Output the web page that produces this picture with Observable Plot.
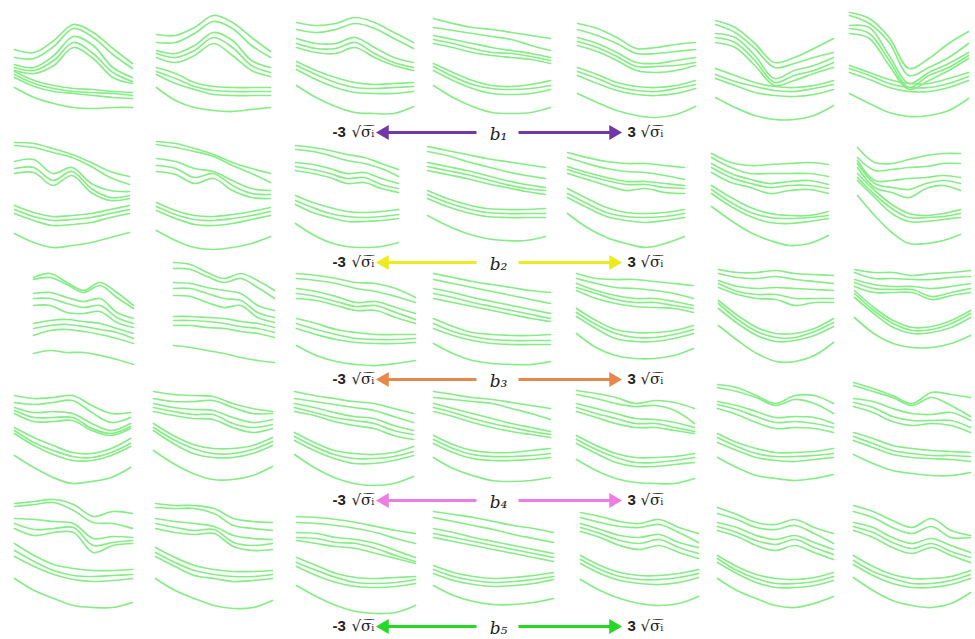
<!DOCTYPE html>
<html>
<head>
<meta charset="utf-8">
<script src="https://cdn.jsdelivr.net/npm/d3@7"></script>
<script src="https://cdn.jsdelivr.net/npm/@observablehq/plot@0.6"></script>
<style>
  body { margin: 0; background: #fff; }
  #chart svg { display: block; }
</style>
</head>
<body>
<div id="chart"></div>
<script>
// Layer boundaries traced across a 5 × 7 grid of shape-model panels.
// Each panel: nine boundaries, sampled at seven evenly spaced positions
// between the panel's horizontal extent (span). Depth grows downward.

const spansRow1 = [[4,122],[6,120],[6,123],[3,120],[7,125],[5,123],[-1,118]];
const row1 = [
  [[39,42,30,14,22,38,53],[47,48,36,18,27,44,58],[54,57,45,26,35,57,67],[57,60,50,32,43,62,71],[60,63,55,37,48,67,73],
   [61,70,75,78,79,81,82],[64,73,78,81,82,83,85],[67,76,81,83,85,87,88],[77,87,93,97,98,97,97]],
  [[24,25,17,5,12,27,41],[32,32,23,11,18,35,47],[40,43,35,22,30,50,57],[43,47,40,27,37,55,62],[47,52,45,33,45,60,66],
   [57,63,72,76,77,77,77],[61,68,76,80,81,81,81],[64,73,79,84,85,85,85],[77,90,97,100,101,99,97]],
  [[12,15,13,7,12,22,32],[19,22,19,13,18,28,38],[28,33,33,27,37,47,52],[33,38,38,32,43,52,57],[37,42,43,37,47,55,60],
   [51,60,67,72,74,73,72],[55,64,72,77,78,77,76],[59,69,77,82,83,83,81],[75,87,96,102,103,103,96]],
  [[8,13,17,19,22,25,28],[17,20,23,26,29,35,40],[25,29,33,37,40,43,47],[29,33,38,42,43,46,50],[33,37,42,45,47,49,53],
   [53,62,70,75,76,74,70],[56,66,74,78,79,78,75],[60,70,78,83,84,83,79],[75,87,96,102,103,102,97]],
  [[13,18,27,38,37,34,32],[19,25,33,43,43,41,39],[27,33,42,52,53,50,47],[31,37,46,56,56,55,52],[35,41,50,60,62,60,55],
   [57,64,72,76,77,75,70],[61,68,76,80,81,78,74],[65,73,80,84,85,83,78],[83,92,100,105,107,104,96]],
  [[10,17,33,52,47,38,28],[14,22,38,57,53,47,42],[23,27,45,68,60,55,47],[27,32,50,72,65,60,52],[32,37,55,75,70,63,57],
   [58,65,72,76,77,75,70],[64,71,76,80,81,78,74],[68,75,82,85,86,84,79],[87,97,105,109,109,105,95]],
  [[2,8,27,58,48,33,21],[5,13,32,65,57,47,33],[15,17,45,73,62,53,42],[18,23,50,77,65,57,45],[23,28,55,79,70,60,48],
   [55,62,69,73,73,68,62],[58,65,73,77,77,73,66],[62,69,77,81,81,77,70],[83,93,102,106,105,100,88]]
];

const spansRow2 = [[4,119],[6,120],[5,108],[-3,115],[-3,114],[1,118],[7,110]];
const row2 = [
  [[12,13,18,24,32,41,46],[15,17,22,27,36,47,54],[31,29,43,37,53,60,61],[38,37,50,41,58,67,65],[43,42,55,45,62,70,68],
   [75,82,86,85,83,79,75],[79,86,90,89,87,83,79],[83,90,95,94,92,87,83],[103,112,117,115,112,107,102]],
  [[11,13,18,24,32,38,43],[14,17,21,26,35,43,52],[28,31,38,41,50,58,60],[35,38,47,43,55,63,64],[41,44,53,48,60,67,68],
   [72,80,85,86,84,81,77],[76,84,89,90,88,85,81],[80,88,94,95,93,89,85],[100,110,117,119,117,113,106]],
  [[15,17,20,24,27,33,39],[19,21,25,30,33,38,46],[32,34,38,43,42,48,53],[36,39,43,48,47,54,58],[40,43,47,53,52,58,62],
   [65,72,77,81,82,81,79],[70,77,83,86,87,86,84],[74,82,87,91,91,90,88],[93,104,112,116,117,116,112]],
  [[16,20,24,28,31,34,37],[21,25,31,36,41,45,48],[32,36,40,45,50,54,57],[36,40,44,49,54,58,60],[40,44,48,53,57,61,64],
   [60,68,74,78,79,79,78],[64,72,78,82,83,83,83],[68,76,82,86,87,87,87],[85,95,103,108,110,110,106]],
  [[22,27,31,33,33,35,37],[27,33,38,41,42,45,49],[36,42,47,51,51,53,55],[39,45,50,54,54,57,58],[43,49,55,60,58,62,63],
   [58,68,77,82,83,82,79],[63,73,82,86,87,86,83],[67,77,86,90,92,90,87],[83,97,107,113,117,113,106]],
  [[23,32,35,34,33,32,34],[27,37,43,43,43,43,46],[33,43,49,53,51,50,54],[37,47,53,57,55,55,58],[42,52,57,63,60,59,63],
   [55,67,77,83,85,85,81],[59,72,82,87,88,87,85],[63,76,86,92,93,91,88],[76,90,102,110,115,113,105]],
  [[17,32,33,29,25,23,23],[27,40,39,37,36,33,33],[30,50,50,48,47,45,47],[33,53,57,59,53,50,53],[37,57,62,67,58,55,60],
   [43,60,74,83,85,83,79],[47,64,78,87,87,86,83],[50,67,83,91,91,89,87],[65,85,102,113,113,110,104]]
];

const spansRow3 = [[23,123],[23,124],[6,125],[3,120],[6,123],[8,123],[4,120]];
const row3 = [
  [[27,23,32,40,32,42,55],[29,27,34,42,35,47,58],[43,42,47,51,48,62,68],[48,48,53,57,55,67,73],[55,55,62,63,61,72,77],
   [73,70,69,71,73,78,83],[78,75,74,76,79,82,88],[85,80,79,81,84,88,93],[103,100,102,102,105,109,114]],
  [[12,14,22,28,23,30,40],[18,19,26,32,28,37,48],[32,33,37,40,43,55,60],[38,38,43,48,50,62,67],[45,46,52,57,55,67,72],
   [66,66,67,68,71,73,77],[70,70,71,73,76,78,82],[75,75,77,78,81,83,87],[95,97,100,103,107,110,112]],
  [[23,25,28,32,33,38,47],[28,30,33,38,41,46,52],[38,41,46,52,51,57,63],[43,46,51,56,55,62,69],[48,50,55,60,60,67,73],
   [68,73,79,82,84,84,84],[73,79,84,88,89,89,88],[78,84,89,92,93,93,92],[95,105,111,114,115,113,110]],
  [[23,27,31,34,37,40,42],[29,33,37,41,45,49,53],[38,42,47,51,55,59,63],[43,47,52,56,60,64,68],[48,52,56,60,64,68,71],
   [68,76,82,84,85,85,84],[73,81,86,89,90,90,90],[78,85,90,93,94,94,94],[93,103,110,113,114,114,111]],
  [[23,28,29,29,31,33,35],[28,33,37,38,40,43,48],[33,40,45,48,48,51,55],[37,43,49,52,52,55,58],[40,48,53,56,57,58,62],
   [58,70,79,82,82,80,75],[62,74,83,87,87,84,79],[66,78,88,91,91,88,83],[83,97,105,108,108,105,98]],
  [[19,22,22,20,23,24,25],[23,27,28,26,29,31,33],[30,36,38,37,38,39,40],[33,41,44,44,48,48,48],[37,44,48,49,55,52,52],
   [50,65,77,83,83,78,68],[53,69,81,87,87,81,72],[58,73,85,91,90,85,76],[75,90,103,111,111,105,92]],
  [[19,22,22,25,23,22,20],[22,28,28,29,29,27,26],[29,34,36,36,38,36,33],[32,38,39,39,46,42,38],[36,42,42,42,49,45,42],
   [40,57,70,77,76,70,60],[43,60,73,80,79,73,63],[47,63,77,83,82,77,67],[67,83,93,97,97,93,85]]
];

const spansRow4 = [[4,120],[3,122],[4,123],[3,120],[6,124],[7,123],[3,120]];
const row4 = [
  [[25,28,27,25,35,43,42],[32,34,32,30,42,52,47],[37,42,41,43,53,60,53],[40,47,47,47,58,63,56],[43,51,51,50,60,65,58],
   [57,67,75,82,83,78,68],[60,72,80,86,87,82,73],[63,75,84,90,90,85,76],[85,97,107,113,111,107,97]],
  [[21,24,25,26,33,38,41],[28,31,31,30,37,43,43],[33,37,39,40,47,52,49],[37,41,44,44,53,57,54],[41,45,48,49,57,62,58],
   [53,65,74,78,78,75,67],[57,69,78,83,83,79,71],[60,73,83,87,87,83,75],[80,93,103,109,109,105,96]],
  [[21,25,28,31,33,38,43],[28,31,34,37,40,46,52],[33,37,42,46,48,55,60],[37,42,47,50,53,60,64],[41,45,51,55,58,65,69],
   [62,72,80,83,84,82,76],[66,76,84,88,88,86,81],[70,80,88,93,93,90,85],[84,97,107,113,115,113,106]],
  [[21,24,27,29,32,35,38],[27,29,31,33,38,43,49],[33,38,43,48,53,57,61],[37,42,48,53,57,61,64],[41,46,52,57,61,64,67],
   [65,74,80,82,82,80,78],[69,78,84,86,86,85,83],[73,82,88,90,90,89,87],[87,98,105,110,111,110,107]],
  [[20,23,27,33,30,32,38],[24,28,33,36,35,40,53],[33,38,43,48,49,52,57],[37,43,48,53,53,57,61],[41,47,53,57,57,60,63],
   [65,75,83,87,87,86,83],[69,79,87,92,92,90,87],[73,83,92,96,96,94,92],[89,100,108,112,113,113,108]],
  [[14,17,25,33,25,25,33],[17,21,27,35,29,33,43],[31,35,41,47,46,47,53],[34,39,46,52,51,53,57],[38,44,52,58,57,58,62],
   [63,72,78,82,82,81,78],[67,76,83,86,86,85,83],[72,80,87,90,91,89,87],[87,97,105,108,110,108,104]],
  [[12,18,25,33,22,24,27],[15,21,27,35,27,35,46],[28,31,38,43,44,42,50],[32,37,46,50,50,50,57],[36,42,51,55,53,55,62],
   [62,68,75,78,80,81,82],[66,73,80,83,85,85,86],[70,77,84,87,88,89,91],[84,93,100,103,105,105,102]]
];

const spansRow5 = [[4,122],[5,122],[6,125],[3,123],[10,128],[7,123],[3,120]];
const row5 = [
  [[13,11,9,14,26,21,23],[16,14,12,20,32,33,38],[28,29,31,33,48,46,47],[33,39,38,37,55,52,50],[38,45,42,42,62,55,53],
   [53,65,74,78,80,80,79],[60,71,80,85,86,85,84],[66,76,84,89,91,90,88],[88,100,108,115,117,117,112]],
  [[13,15,15,18,28,31,32],[17,18,18,23,35,38,40],[28,31,33,36,45,48,49],[33,37,40,39,52,55,53],[38,42,44,43,56,60,59],
   [57,67,75,79,81,81,80],[62,72,80,84,86,86,84],[66,76,85,88,91,90,88],[88,100,108,115,118,117,110]],
  [[26,27,29,32,36,40,43],[32,33,35,38,42,48,53],[42,43,47,49,53,60,67],[47,48,52,53,58,65,71],[50,53,56,58,63,68,73],
   [67,75,83,87,88,87,86],[72,80,87,92,93,92,89],[76,85,92,96,97,96,93],[95,106,115,121,123,122,115]],
  [[21,24,27,31,35,38,42],[27,31,35,39,44,48,52],[38,42,47,51,55,59,63],[43,47,51,55,59,63,67],[47,51,55,59,63,67,71],
   [75,82,86,88,87,85,82],[79,86,90,92,91,89,86],[83,90,94,96,95,93,89],[95,105,111,114,114,112,108]],
  [[22,26,31,33,29,37,43],[27,32,36,37,34,42,52],[33,39,45,47,44,52,57],[37,43,50,53,49,57,63],[41,47,55,59,55,62,68],
   [65,75,82,85,85,83,79],[69,79,86,89,89,87,83],[73,83,90,93,94,92,87],[89,100,108,113,115,113,106]],
  [[17,24,32,34,29,37,43],[23,29,37,39,35,43,53],[32,37,45,49,45,52,59],[36,42,50,54,49,57,64],[40,46,55,60,55,62,69],
   [65,76,84,88,89,87,82],[68,80,88,93,93,91,86],[72,83,92,97,97,95,90],[88,100,108,115,117,113,106]],
  [[15,21,30,37,28,40,45],[21,27,37,43,36,47,47],[32,37,47,53,48,55,62],[36,42,52,58,53,61,67],[40,47,57,63,57,65,72],
   [65,76,84,88,88,86,80],[70,81,88,93,93,90,84],[74,85,93,97,97,94,88],[87,100,110,115,117,113,102]]
];

// Mode labels and the colour of each mode's arrow
const modeLabels = ["b₁", "b₂", "b₃", "b₄", "b₅"];
const modeColors = ["#7437a6", "#ecec1c", "#e6884a", "#ec7ce6", "#24d824"];
const lowCoef = "-3";
const highCoef = "3";
const spread = "√σ\u0305ᵢ\u0305";

// ---- build the tidy table ----
const rows = [row1, row2, row3, row4, row5];
const spans = [spansRow1, spansRow2, spansRow3, spansRow4, spansRow5];
const traces = [];
rows.forEach((panels, r) => panels.forEach((curves, c) => {
  const [x0, x1] = spans[r][c];
  curves.forEach((ys, k) => ys.forEach((y, i) => {
    traces.push({row: r, col: c, id: `${r}-${c}-${k}`, x: x0 + (x1 - x0) * i / (ys.length - 1), y});
  }));
}));

// Arrow annotations sit under the middle column of each row
const arrowDrop = [122, 132, 129, 130, 136];
const arrowCol = 3;
const arrows = modeLabels.map((label, r) => ({row: r, col: arrowCol, label, color: modeColors[r], y: arrowDrop[r]}));

const green = "#86ec86";
const ink = "#222";

const chart = Plot.plot({
  width: 975,
  height: 639,
  marginTop: 10,
  marginBottom: 41,
  marginLeft: 10,
  marginRight: 6,
  x: {domain: [0, 119], axis: null},
  y: {domain: [0, 108], reverse: true, axis: null},
  fx: {domain: d3.range(7), paddingInner: 0.15, paddingOuter: 0, round: false, axis: null},
  fy: {domain: d3.range(5), paddingInner: 0.1, paddingOuter: 0, round: false, axis: null},
  style: {background: "#fff"},
  marks: [
    Plot.line(traces, {
      x: "x", y: "y", z: "id", fx: "col", fy: "row",
      stroke: green, strokeWidth: 1.7, curve: "catmull-rom"
    }),
    // shafts
    Plot.link(arrows, {x1: 46, x2: -44, y1: "y", y2: "y", fx: "col", fy: "row", stroke: "color", strokeWidth: 3}),
    Plot.link(arrows, {x1: 88, x2: 181, y1: "y", y2: "y", fx: "col", fy: "row", stroke: "color", strokeWidth: 3}),
    // heads
    Plot.dot(arrows, {x: -46, y: "y", fx: "col", fy: "row", symbol: "triangle", rotate: -90, r: 5.5, fill: "color", stroke: null}),
    Plot.dot(arrows, {x: 183, y: "y", fx: "col", fy: "row", symbol: "triangle", rotate: 90, r: 5.5, fill: "color", stroke: null}),
    // mode labels
    Plot.text(arrows, {x: 68, y: "y", fx: "col", fy: "row", text: "label", fontFamily: "DejaVu Serif", fontStyle: "italic", fontSize: 17, fill: ink, dy: 2}),
    // ±3 √σi labels
    Plot.text(arrows, {x: -98, y: "y", fx: "col", fy: "row", text: () => lowCoef, fontFamily: "Liberation Sans", fontWeight: "bold", fontSize: 15, fill: ink, textAnchor: "start"}),
    Plot.text(arrows, {x: -79, y: "y", fx: "col", fy: "row", text: () => spread, fontFamily: "DejaVu Serif", fontSize: 15, fill: ink, textAnchor: "start"}),
    Plot.text(arrows, {x: 197, y: "y", fx: "col", fy: "row", text: () => highCoef, fontFamily: "Liberation Sans", fontWeight: "bold", fontSize: 15, fill: ink, textAnchor: "start"}),
    Plot.text(arrows, {x: 210, y: "y", fx: "col", fy: "row", text: () => spread, fontFamily: "DejaVu Serif", fontSize: 15, fill: ink, textAnchor: "start"})
  ]
});

document.getElementById("chart").appendChild(chart);
</script>
</body>
</html>
